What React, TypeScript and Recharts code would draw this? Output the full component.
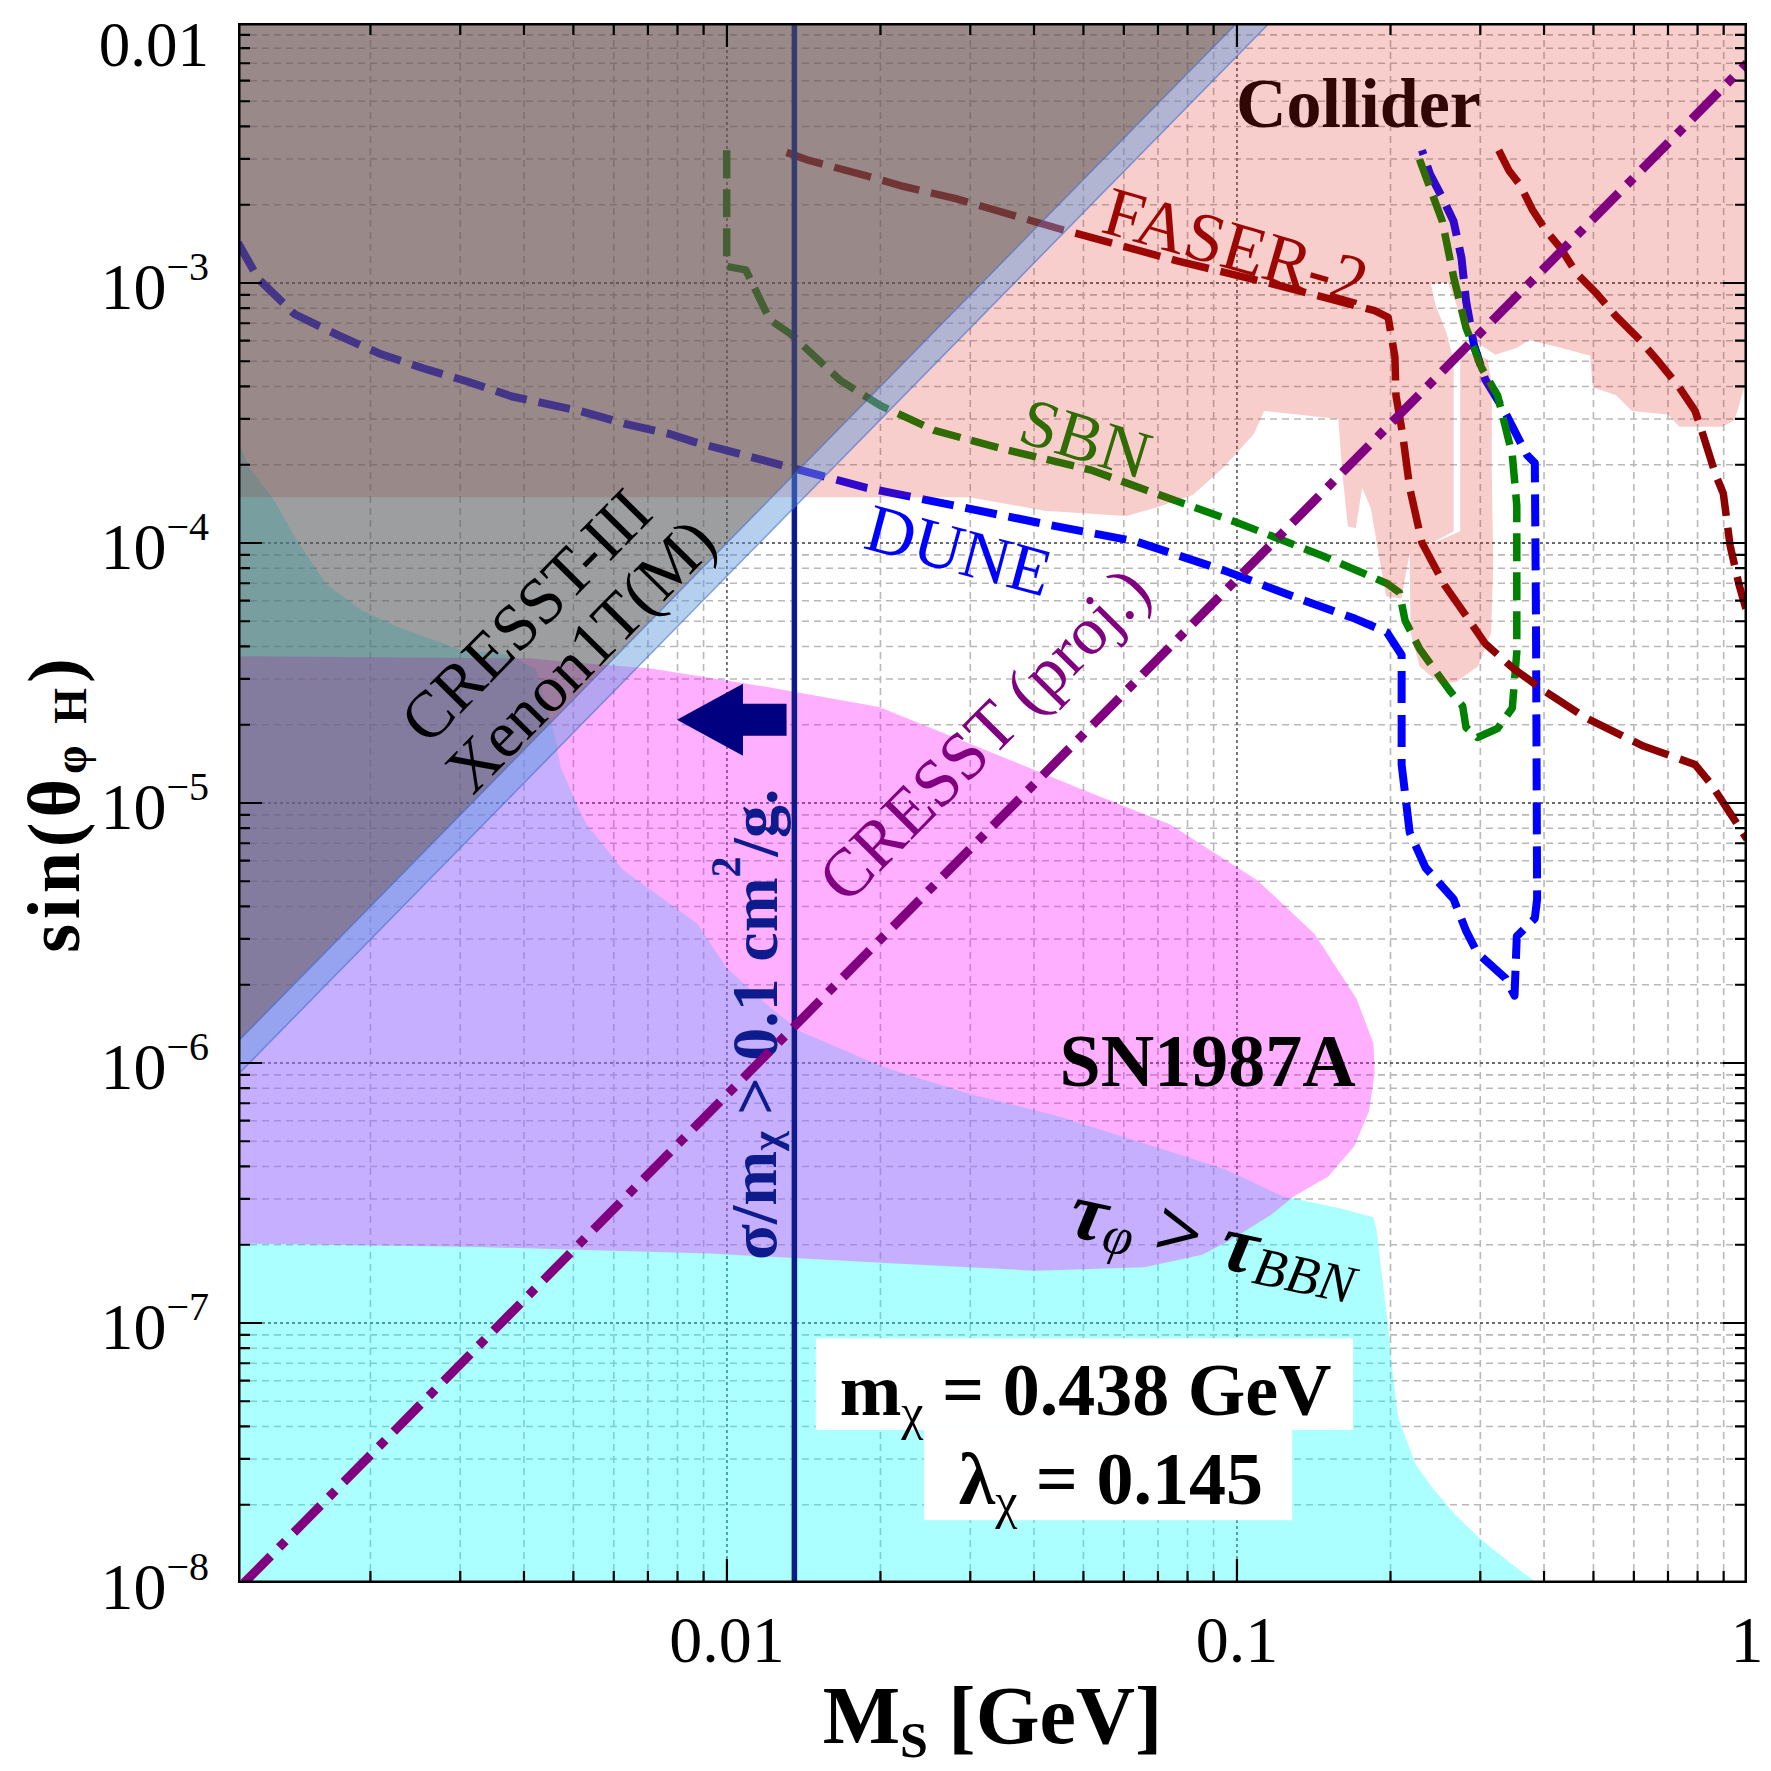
import React from 'react';
import { ComposedChart, XAxis, YAxis, Scatter } from 'recharts';

const FONT = '"Liberation Serif", "Times New Roman", Times, serif';

// ---------- axes ----------
const X_DOMAIN: [number, number] = [0.0011, 1];
const Y_DOMAIN: [number, number] = [1e-8, 1e-2];
const xMajorTicks = [0.01, 0.1, 1];
const xTickLabels = ['0.01', '0.1', '1'];
const xMinorTicks = [0.002, 0.003, 0.004, 0.005, 0.006, 0.007, 0.008, 0.009, 0.02, 0.03, 0.04, 0.05, 0.06, 0.07, 0.08, 0.09, 0.2, 0.3, 0.4, 0.5, 0.6, 0.7, 0.8, 0.9];
const yMajorTicks = [1e-8, 1e-7, 1e-6, 1e-5, 1e-4, 1e-3, 1e-2];
const yTickLabels = [
  { base: '10', exp: '\u22128' }, { base: '10', exp: '\u22127' }, { base: '10', exp: '\u22126' },
  { base: '10', exp: '\u22125' }, { base: '10', exp: '\u22124' }, { base: '10', exp: '\u22123' }, { base: '0.01', exp: '' },
];
const yMinorTicks = [
  2e-8, 3e-8, 4e-8, 5e-8, 6e-8, 7e-8, 8e-8, 9e-8,
  2e-7, 3e-7, 4e-7, 5e-7, 6e-7, 7e-7, 8e-7, 9e-7,
  2e-6, 3e-6, 4e-6, 5e-6, 6e-6, 7e-6, 8e-6, 9e-6,
  2e-5, 3e-5, 4e-5, 5e-5, 6e-5, 7e-5, 8e-5, 9e-5,
  2e-4, 3e-4, 4e-4, 5e-4, 6e-4, 7e-4, 8e-4, 9e-4,
  2e-3, 3e-3, 4e-3, 5e-3, 6e-3, 7e-3, 8e-3, 9e-3,
];

// ---------- regions ----------
const pts = (a: number[][]) => a.map(([x, y]) => ({ x, y }));

const bbnRegion = pts([
  [0.0011, 1e-8], [0.0011, 2.43e-4], [0.001163, 1.93e-4], [0.001295, 1.46e-4], [0.001419, 1.06e-4],
  [0.001637, 6.96e-5], [0.001917, 5.53e-5], [0.002256, 4.76e-5], [0.002987, 3.9e-5], [0.003755, 3.71e-5],
  [0.00422, 3.27e-5], [0.004605, 1.787e-5], [0.004724, 1.37e-5], [0.0051, 9.7e-6], [0.00531, 8.27e-6],
  [0.00625, 5.54e-6], [0.00875, 3.43e-6], [0.00999, 2.32e-6], [0.01194, 1.686e-6], [0.01391, 1.326e-6],
  [0.02008, 9.72e-7], [0.02958, 7.65e-7], [0.04356, 6.32e-7], [0.06451, 4.97e-7], [0.09451, 3.91e-7],
  [0.1226, 3.08e-7], [0.159, 2.76e-7], [0.1852, 2.55e-7], [0.188, 2.26e-7], [0.1919, 1.59e-7],
  [0.1979, 9.74e-8], [0.2019, 6.47e-8], [0.2071, 4.33e-8], [0.2236, 2.88e-8], [0.2413, 2.33e-8],
  [0.2673, 1.84e-8], [0.302, 1.46e-8], [0.343, 1.197e-8], [0.3877, 1e-8],
]);

const sn1987aRegion = pts([
  [0.0011, 3.67e-5], [0.00412, 3.6e-5], [0.00482, 3.49e-5], [0.0071, 3.29e-5], [0.01194, 2.8e-5],
  [0.01988, 2.34e-5], [0.03377, 1.537e-5], [0.04972, 1.127e-5], [0.07399, 8.27e-6], [0.1101, 5.01e-6],
  [0.1421, 3.13e-6], [0.1715, 1.772e-6], [0.1852, 1.188e-6], [0.1862, 9.16e-7], [0.1815, 6.52e-7],
  [0.1698, 4.78e-7], [0.151, 3.66e-7], [0.1296, 3.08e-7], [0.1165, 2.6e-7], [0.097, 2.08e-7],
  [0.0854, 1.83e-7], [0.0658, 1.64e-7], [0.0402, 1.59e-7], [0.02008, 1.706e-7], [0.00926, 1.85e-7],
  [0.00327, 1.96e-7], [0.0011, 2.02e-7],
]);

const colliderMain = pts([
  [0.0011, 0.01], [1, 0.01], [1, 4.3e-4], [0.946, 2.97e-4], [0.894, 2.8e-4], [0.737, 2.8e-4],
  [0.7, 3.12e-4], [0.595, 3.22e-4], [0.554, 3.7e-4], [0.498, 3.97e-4], [0.493, 5.25e-4], [0.431, 5.63e-4],
  [0.374, 6.04e-4], [0.354, 5.63e-4], [0.321, 5.3e-4], [0.2884, 6.1e-4], [0.2783, 6.74e-4], [0.2686, 8.4e-4],
  [0.2592, 1.006e-3], [0.2401, 9.86e-4], [0.245, 8.23e-4], [0.2578, 6.41e-4], [0.266, 4.99e-4],
  [0.266, 1.11e-4], [0.243, 1.01e-4], [0.218, 9.12e-5], [0.21, 6.11e-5], [0.196, 6.24e-5], [0.183, 1.36e-4],
  [0.176, 1.63e-4], [0.171, 1.14e-4], [0.165, 1.16e-4], [0.161, 1.84e-4], [0.158, 3.0e-4], [0.113, 3.22e-4],
  [0.108, 2.63e-4], [0.0945, 1.97e-4], [0.0819, 1.53e-4], [0.0696, 1.37e-4], [0.0607, 1.27e-4],
  [0.042, 1.33e-4], [0.0299, 1.5e-4], [0.0139, 1.5e-4], [0.0011, 1.5e-4],
]);

const colliderTongue = pts([
  [0.274, 5.52e-4], [0.31, 5.1e-4], [0.316, 4.09e-4], [0.316, 1.84e-4], [0.318, 8.25e-5], [0.315, 4.53e-5],
  [0.297, 3.36e-5], [0.269, 2.92e-5], [0.249, 2.89e-5], [0.228, 3.36e-5], [0.219, 4.53e-5], [0.218, 9.12e-5],
  [0.274, 1.11e-4],
]);

// CRESST-III / Xenon1T(M) excluded triangle and its boundary band
const cresstXenonRegion = pts([[0.0011, 1.21e-6], [0.0011, 0.01], [0.1, 0.01]]);
const xenonBand = pts([[0.0011, 9.03e-7], [0.0011, 1.21e-6], [0.1, 0.01], [0.1158, 0.01]]);

// ---------- curves ----------
const duneCurve = pts([
  [0.0011, 1.428e-3], [0.001206, 1.036e-3], [0.001419, 7.6e-4], [0.001731, 6.29e-4], [0.00208, 5.36e-4],
  [0.002537, 4.7e-4], [0.00311, 4.17e-4], [0.00379, 3.66e-4], [0.00515, 3.22e-4], [0.00628, 2.88e-4],
  [0.0077, 2.63e-4], [0.00862, 2.45e-4], [0.01335, 1.95e-4], [0.01879, 1.63e-4], [0.02811, 1.389e-4],
  [0.042, 1.183e-4], [0.0632, 1.015e-4], [0.0945, 7.83e-5], [0.1323, 6.11e-5], [0.1707, 5.11e-5],
  [0.1968, 4.53e-5], [0.2103, 3.71e-5], [0.2103, 1.405e-5], [0.2181, 7.71e-6], [0.2341, 5.65e-6],
  [0.2659, 4.27e-6], [0.2812, 3.23e-6], [0.296, 2.65e-6], [0.3361, 2.12e-6], [0.3501, 1.815e-6],
  [0.3537, 3.07e-6], [0.3837, 3.6e-6], [0.3877, 4.27e-6], [0.3857, 5.18e-5], [0.3837, 2.03e-4],
  [0.3703, 2.18e-4], [0.3344, 3.22e-4], [0.3067, 4.26e-4], [0.2914, 5.8e-4], [0.2812, 8.57e-4],
  [0.2755, 1.253e-3], [0.2659, 1.727e-3], [0.2527, 2.13e-3], [0.2389, 2.63e-3], [0.2305, 3.24e-3],
]);

const sbnCurve = pts([
  [0.00999, 3.24e-3], [0.00999, 1.157e-3], [0.01089, 1.123e-3], [0.01213, 7.23e-4], [0.01335, 6.35e-4],
  [0.01671, 4.21e-4], [0.01998, 3.38e-4], [0.02551, 2.71e-4], [0.03446, 2.31e-4], [0.05155, 1.912e-4],
  [0.0771, 1.437e-4], [0.0999, 1.2e-4], [0.1487, 8.85e-5], [0.1968, 6.99e-5], [0.2082, 6.45e-5],
  [0.2136, 5.03e-5], [0.2282, 3.91e-5], [0.2619, 2.69e-5], [0.277, 2.36e-5], [0.2812, 1.954e-5],
  [0.296, 1.786e-5], [0.3243, 1.935e-5], [0.3466, 2.32e-5], [0.3537, 3.8e-5], [0.3537, 1.394e-4],
  [0.3466, 2.18e-4], [0.3243, 3.7e-4], [0.302, 4.7e-4], [0.2812, 6.74e-4], [0.2659, 1.057e-3],
  [0.2527, 1.727e-3], [0.2352, 2.53e-3], [0.2246, 3.24e-3],
]);

const faserCurveLow = pts([
  [0.01309, 3.18e-3], [0.01449, 2.96e-3], [0.01879, 2.58e-3], [0.02223, 2.35e-3], [0.02811, 2.11e-3],
  [0.04514, 1.61e-3], [0.0763, 1.217e-3], [0.1213, 9.76e-4], [0.1862, 7.83e-4], [0.1979, 7.38e-4],
  [0.204, 5.2e-4], [0.205, 3.7e-4], [0.2113, 2.61e-4], [0.2181, 1.63e-4], [0.2305, 1.002e-4],
  [0.2553, 6.89e-5], [0.2812, 5.26e-5], [0.3067, 4.1e-5], [0.3483, 3.29e-5], [0.4017, 2.69e-5],
  [0.4801, 2.14e-5], [0.6259, 1.656e-5], [0.7912, 1.405e-5], [0.8494, 1.185e-5], [0.9265, 9.14e-6],
  [1, 7.26e-6],
]);

const faserCurveHigh = pts([
  [0.326, 3.24e-3], [0.3413, 2.71e-3], [0.3591, 2.38e-3], [0.3798, 1.909e-3], [0.4017, 1.61e-3],
  [0.4314, 1.358e-3], [0.4634, 1.09e-3], [0.5051, 9.19e-4], [0.5538, 7.45e-4], [0.6164, 6.04e-4],
  [0.6755, 4.9e-4], [0.7366, 3.97e-4], [0.7912, 3.22e-4], [0.8197, 2.61e-4], [0.8671, 1.84e-4],
  [0.8986, 1.55e-4], [0.9265, 9.78e-5], [0.9651, 6.89e-5], [0.995, 5.59e-5],
]);

const cresstProjLine = pts([[0.00113, 1e-8], [1, 7.0e-3]]);
const selfInteractionLine = pts([[0.01356, 1e-8], [0.01356, 1e-2]]);
const arrowPoints = pts([[0.00798, 2.09e-5], [0.01309, 2.09e-5]]);

// ---------- annotation anchors ----------
const anchorCollider = pts([[0.173, 3.98e-3]]);
const anchorFaser = pts([[0.0995, 1.385e-3]]);
const anchorSbn = pts([[0.0505, 2.53e-4]]);
const anchorDune = pts([[0.0285, 9.4e-5]]);
const anchorCresst3 = pts([[0.00403, 5.26e-5]]);
const anchorXenon = pts([[0.00515, 3.71e-5]]);
const anchorCresstProj = pts([[0.0319, 1.84e-5]]);
const anchorSigma = pts([[0.01129, 1.41e-6]]);
const anchorSn = pts([[0.0876, 8.16e-7]]);
const anchorTau = pts([[0.0905, 2.12e-7]]);
const boxLine1 = pts([[0.01494, 8.73e-8], [0.1689, 3.88e-8]]);
const boxLine2 = pts([[0.02436, 3.88e-8], [0.1283, 1.744e-8]]);
const anchorMchi = pts([[0.0505, 4.43e-8]]);
const anchorLambda = pts([[0.0566, 2.01e-8]]);

// derived tables (grid, ticks, frame)
const gridMinorData = [
  ...xMinorTicks.flatMap((v) => [{ x: v, y: Y_DOMAIN[0] }, { x: v, y: Y_DOMAIN[1] }]),
  ...yMinorTicks.flatMap((v) => [{ x: X_DOMAIN[0], y: v }, { x: X_DOMAIN[1], y: v }]),
];
const innerXMajor = xMajorTicks.filter((v) => v > X_DOMAIN[0] && v < X_DOMAIN[1]);
const innerYMajor = yMajorTicks.filter((v) => v > Y_DOMAIN[0] && v < Y_DOMAIN[1]);
const gridMajorData = [
  ...innerXMajor.flatMap((v) => [{ x: v, y: Y_DOMAIN[0] }, { x: v, y: Y_DOMAIN[1] }]),
  ...innerYMajor.flatMap((v) => [{ x: X_DOMAIN[0], y: v }, { x: X_DOMAIN[1], y: v }]),
];
const frameData = [
  { x: X_DOMAIN[0], y: Y_DOMAIN[0] }, { x: X_DOMAIN[1], y: Y_DOMAIN[0] },
  { x: X_DOMAIN[1], y: Y_DOMAIN[1] }, { x: X_DOMAIN[0], y: Y_DOMAIN[1] },
];

// ---------- renderers ----------
const Nothing = () => <g />;

function pathOf(points: any[], close: boolean) {
  if (!points || !points.length) return '';
  return points.map((p: any, i: number) => `${i ? 'L' : 'M'}${p.x.toFixed(2)},${p.y.toFixed(2)}`).join('') + (close ? 'Z' : '');
}

function PolyFill(props: any) {
  const { points, color, alpha, edge, edgeW } = props;
  return <path d={pathOf(points, true)} fill={color} fillOpacity={alpha} stroke={edge || 'none'} strokeWidth={edgeW || 0} />;
}

function PolyStroke(props: any) {
  const { points, color, width, dash, closed } = props;
  return <path d={pathOf(points, !!closed)} fill="none" stroke={color} strokeWidth={width} strokeDasharray={dash} strokeLinejoin="round" />;
}

function Segments(props: any) {
  const { points, color, width, dash } = props;
  let d = '';
  for (let i = 0; i + 1 < (points || []).length; i += 2) {
    d += `M${points[i].x.toFixed(2)},${points[i].y.toFixed(2)}L${points[i + 1].x.toFixed(2)},${points[i + 1].y.toFixed(2)}`;
  }
  return <path d={d} fill="none" stroke={color} strokeWidth={width} strokeDasharray={dash} />;
}

function TickMarks(props: any) {
  const { points, dx, dy } = props;
  let d = '';
  (points || []).forEach((p: any) => { d += `M${p.x.toFixed(2)},${p.y.toFixed(2)}l${dx},${dy}`; });
  return <path d={d} fill="none" stroke="#000" strokeWidth={2.2} />;
}

function ArrowShape(props: any) {
  const { points } = props;
  if (!points || points.length < 2) return null;
  const tip = points[0];
  const tail = points[1];
  const y = tip.y;
  const hx = tip.x + 66;
  const d = `M${tip.x},${y}L${hx},${y - 36}L${hx},${y - 16}L${tail.x},${y - 16}L${tail.x},${y + 16}L${hx},${y + 16}L${hx},${y + 36}Z`;
  return <path d={d} fill="#000080" />;
}

function BoxShape(props: any) {
  const { points } = props;
  if (!points || points.length < 2) return null;
  const [a, b] = points;
  return <rect x={Math.min(a.x, b.x)} y={Math.min(a.y, b.y)} width={Math.abs(b.x - a.x)} height={Math.abs(b.y - a.y)} fill="#fff" />;
}

const label = (render: (cx: number, cy: number) => React.ReactNode) => (p: any) => <g>{render(p.cx, p.cy)}</g>;

const XTick = (props: any) => {
  const { x, y, payload } = props;
  const i = xMajorTicks.indexOf(payload.value);
  if (i < 0) return <g />;
  return <text x={x} y={y + 79} textAnchor="middle" fontFamily={FONT} fontSize={66} fill="#000">{xTickLabels[i]}</text>;
};

const YTick = (props: any) => {
  const { x, y, payload } = props;
  const i = yMajorTicks.indexOf(payload.value);
  if (i < 0) return <g />;
  const lab = yTickLabels[i];
  const isTop = payload.value === Y_DOMAIN[1];
  const by = y + (isTop ? 43 : 26);
  return (
    <text x={x - 29} y={by} textAnchor="end" fontFamily={FONT} fontSize={isTop ? 63 : 66} fill="#000">
      {lab.base}
      {lab.exp ? <tspan dy={-29} fontSize={40}>{lab.exp}</tspan> : null}
    </text>
  );
};

const XTitle = (props: any) => {
  const vb = props.viewBox || { x: 230, y: 1575, width: 1509, height: 188 };
  const cx = vb.x + vb.width / 2;
  return (
    <text x={cx} y={vb.y + 160} textAnchor="middle" fontFamily={FONT} fontWeight="bold" fontSize={82} fill="#000">
      M<tspan dy={14} fontSize={50}>S</tspan><tspan dy={-14}> [GeV]</tspan>
    </text>
  );
};

const YTitle = (props: any) => {
  const vb = props.viewBox || { x: 0, y: 15, width: 230, height: 1560 };
  const cx = 46;
  const cy = vb.y + vb.height / 2;
  return (
    <text x={cx} y={cy} transform={`rotate(-90 ${cx} ${cy})`} textAnchor="middle" dominantBaseline="central" fontFamily={FONT} fontWeight="bold" fontSize={74} letterSpacing={5} fill="#000">
      sin(θ<tspan dy={16} fontSize={46}>φ H</tspan><tspan dy={-16}>)</tspan>
    </text>
  );
};

const common = { isAnimationActive: false, shape: Nothing } as any;

export default function App() {
  return (
    <ComposedChart width={1763} height={1763} margin={{ top: 15, right: 24, left: 0, bottom: 0 }}>
      <XAxis type="number" dataKey="x" scale="log" domain={X_DOMAIN} allowDataOverflow ticks={xMajorTicks} interval={0}
        tickSize={0} tickMargin={0} tickLine={false} axisLine={false} height={188} tick={<XTick />} label={XTitle} />
      <YAxis type="number" dataKey="y" scale="log" domain={Y_DOMAIN} allowDataOverflow ticks={yMajorTicks} interval={0}
        tickSize={0} tickMargin={0} tickLine={false} axisLine={false} width={230} tick={<YTick />} label={YTitle} />

      {/* grid */}
      <Scatter {...common} data={gridMinorData} line={<Segments color="#b8b8b8" width={1.6} dash="7 5" />} />
      <Scatter {...common} data={gridMajorData} line={<Segments color="#6a6a6a" width={1.8} dash="3 3" />} />

      {/* BBN and SN1987A regions */}
      <Scatter {...common} data={bbnRegion} line={<PolyFill color="#00ffff" alpha={0.33} />} />
      <Scatter {...common} data={sn1987aRegion} line={<PolyFill color="#ff05ff" alpha={0.32} />} />

      {/* projected sensitivities */}
      <Scatter {...common} data={duneCurve} line={<PolyStroke color="#0000ff" width={8} dash="32 12" />} />
      <Scatter {...common} data={sbnCurve} line={<PolyStroke color="#008000" width={7.5} dash="28 11" />} />
      <Scatter {...common} data={faserCurveLow} line={<PolyStroke color="#8b0000" width={7.5} dash="38 12" />} />
      <Scatter {...common} data={faserCurveHigh} line={<PolyStroke color="#8b0000" width={7.5} dash="38 12" />} />

      <Scatter isAnimationActive={false} data={anchorCollider} shape={label((cx, cy) => (
        <text x={cx} y={cy} textAnchor="middle" fontFamily={FONT} fontWeight="bold" fontSize={70} fill="#000">Collider</text>
      ))} />
      <Scatter isAnimationActive={false} data={anchorFaser} shape={label((cx, cy) => (
        <text x={cx} y={cy} transform={`rotate(16 ${cx} ${cy})`} textAnchor="middle" dominantBaseline="central" fontFamily={FONT} fontSize={70} fill="#8b0000">FASER-2</text>
      ))} />
      <Scatter isAnimationActive={false} data={anchorSbn} shape={label((cx, cy) => (
        <text x={cx} y={cy} transform={`rotate(17 ${cx} ${cy})`} textAnchor="middle" dominantBaseline="central" fontFamily={FONT} fontSize={68} fill="#008000">SBN</text>
      ))} />
      <Scatter isAnimationActive={false} data={anchorDune} shape={label((cx, cy) => (
        <text x={cx} y={cy} transform={`rotate(15 ${cx} ${cy})`} textAnchor="middle" dominantBaseline="central" fontFamily={FONT} fontSize={68} fill="#0000ff">DUNE</text>
      ))} />

      {/* collider bounds (translucent) */}
      <Scatter {...common} data={colliderMain} line={<PolyFill color="rgb(220,30,20)" alpha={0.22} />} />
      <Scatter {...common} data={colliderTongue} line={<PolyFill color="rgb(220,30,20)" alpha={0.22} />} />

      {/* sigma/m line */}
      <Scatter {...common} data={selfInteractionLine} line={<PolyStroke color="#0d1a8a" width={5.5} />} />

      {/* direct detection */}
      <Scatter {...common} data={cresstXenonRegion} line={<PolyFill color="rgb(85,88,90)" alpha={0.58} />} />
      <Scatter {...common} data={xenonBand} line={<PolyFill color="rgb(90,150,220)" alpha={0.45} edge="rgba(60,100,200,0.55)" edgeW={1.5} />} />

      <Scatter {...common} data={arrowPoints} line={<ArrowShape />} />
      <Scatter isAnimationActive={false} data={anchorSigma} shape={label((cx, cy) => (
        <text x={cx} y={cy} transform={`rotate(-90 ${cx} ${cy})`} textAnchor="middle" dominantBaseline="central" fontFamily={FONT} fontWeight="bold" fontSize={66} fill="#0d1b8c">
          σ/m<tspan dy={12} fontSize={42}>χ</tspan><tspan dy={-12}> &gt; 0.1 cm</tspan><tspan dy={-28} fontSize={42}>2</tspan><tspan dy={28}>/g.</tspan>
        </text>
      ))} />

      <Scatter {...common} data={cresstProjLine} line={<PolyStroke color="#800080" width={9} dash="38 12 9 12" />} />
      <Scatter isAnimationActive={false} data={anchorCresstProj} shape={label((cx, cy) => (
        <text x={cx} y={cy} transform={`rotate(-45.3 ${cx} ${cy})`} textAnchor="middle" dominantBaseline="central" fontFamily={FONT} fontSize={68} fill="#800080">CRESST (proj.)</text>
      ))} />

      <Scatter isAnimationActive={false} data={anchorCresst3} shape={label((cx, cy) => (
        <text x={cx} y={cy} transform={`rotate(-45.5 ${cx} ${cy})`} textAnchor="middle" dominantBaseline="central" fontFamily={FONT} fontSize={66} fill="#000">CRESST-III</text>
      ))} />
      <Scatter isAnimationActive={false} data={anchorXenon} shape={label((cx, cy) => (
        <text x={cx} y={cy} transform={`rotate(-45.5 ${cx} ${cy})`} textAnchor="middle" dominantBaseline="central" fontFamily={FONT} fontSize={66} fill="#000">Xenon1T(M)</text>
      ))} />
      <Scatter isAnimationActive={false} data={anchorSn} shape={label((cx, cy) => (
        <text x={cx} y={cy} textAnchor="middle" fontFamily={FONT} fontWeight="bold" fontSize={74} fill="#000">SN1987A</text>
      ))} />
      <Scatter isAnimationActive={false} data={anchorTau} shape={label((cx, cy) => (
        <text x={cx} y={cy} transform={`rotate(12 ${cx} ${cy})`} textAnchor="middle" dominantBaseline="central" fontFamily={FONT} fontSize={82} fill="#000">
          <tspan fontWeight="bold" fontStyle="italic">τ</tspan><tspan dy={18} fontSize={54} fontStyle="italic">φ</tspan>
          <tspan dy={-18} fontWeight="bold"> &gt; </tspan><tspan fontWeight="bold" fontStyle="italic">τ</tspan>
          <tspan dy={18} fontSize={54} fontStyle="italic">BBN</tspan>
        </text>
      ))} />

      {/* parameter box */}
      <Scatter {...common} data={boxLine1} line={<BoxShape />} />
      <Scatter {...common} data={boxLine2} line={<BoxShape />} />
      <Scatter isAnimationActive={false} data={anchorMchi} shape={label((cx, cy) => (
        <text x={cx} y={cy} textAnchor="middle" fontFamily={FONT} fontWeight="bold" fontSize={74} fill="#000">
          m<tspan dy={14} fontSize={50} fontWeight="normal">χ</tspan><tspan dy={-14}> = 0.438 GeV</tspan>
        </text>
      ))} />
      <Scatter isAnimationActive={false} data={anchorLambda} shape={label((cx, cy) => (
        <text x={cx} y={cy} textAnchor="middle" fontFamily={FONT} fontWeight="bold" fontSize={74} fill="#000">
          λ<tspan dy={14} fontSize={50} fontWeight="normal">χ</tspan><tspan dy={-14}> = 0.145</tspan>
        </text>
      ))} />

      {/* frame and tick marks */}
      <Scatter {...common} data={xMinorTicks.map((v) => ({ x: v, y: Y_DOMAIN[0] }))} line={<TickMarks dx={0} dy={-12} />} />
      <Scatter {...common} data={innerXMajor.map((v) => ({ x: v, y: Y_DOMAIN[0] }))} line={<TickMarks dx={0} dy={-24} />} />
      <Scatter {...common} data={xMinorTicks.map((v) => ({ x: v, y: Y_DOMAIN[1] }))} line={<TickMarks dx={0} dy={12} />} />
      <Scatter {...common} data={innerXMajor.map((v) => ({ x: v, y: Y_DOMAIN[1] }))} line={<TickMarks dx={0} dy={24} />} />
      <Scatter {...common} data={yMinorTicks.map((v) => ({ x: X_DOMAIN[0], y: v }))} line={<TickMarks dx={12} dy={0} />} />
      <Scatter {...common} data={innerYMajor.map((v) => ({ x: X_DOMAIN[0], y: v }))} line={<TickMarks dx={24} dy={0} />} />
      <Scatter {...common} data={yMinorTicks.map((v) => ({ x: X_DOMAIN[1], y: v }))} line={<TickMarks dx={-12} dy={0} />} />
      <Scatter {...common} data={innerYMajor.map((v) => ({ x: X_DOMAIN[1], y: v }))} line={<TickMarks dx={-24} dy={0} />} />
      <Scatter {...common} data={frameData} line={<PolyStroke color="#000" width={5} closed />} />
    </ComposedChart>
  );
}
